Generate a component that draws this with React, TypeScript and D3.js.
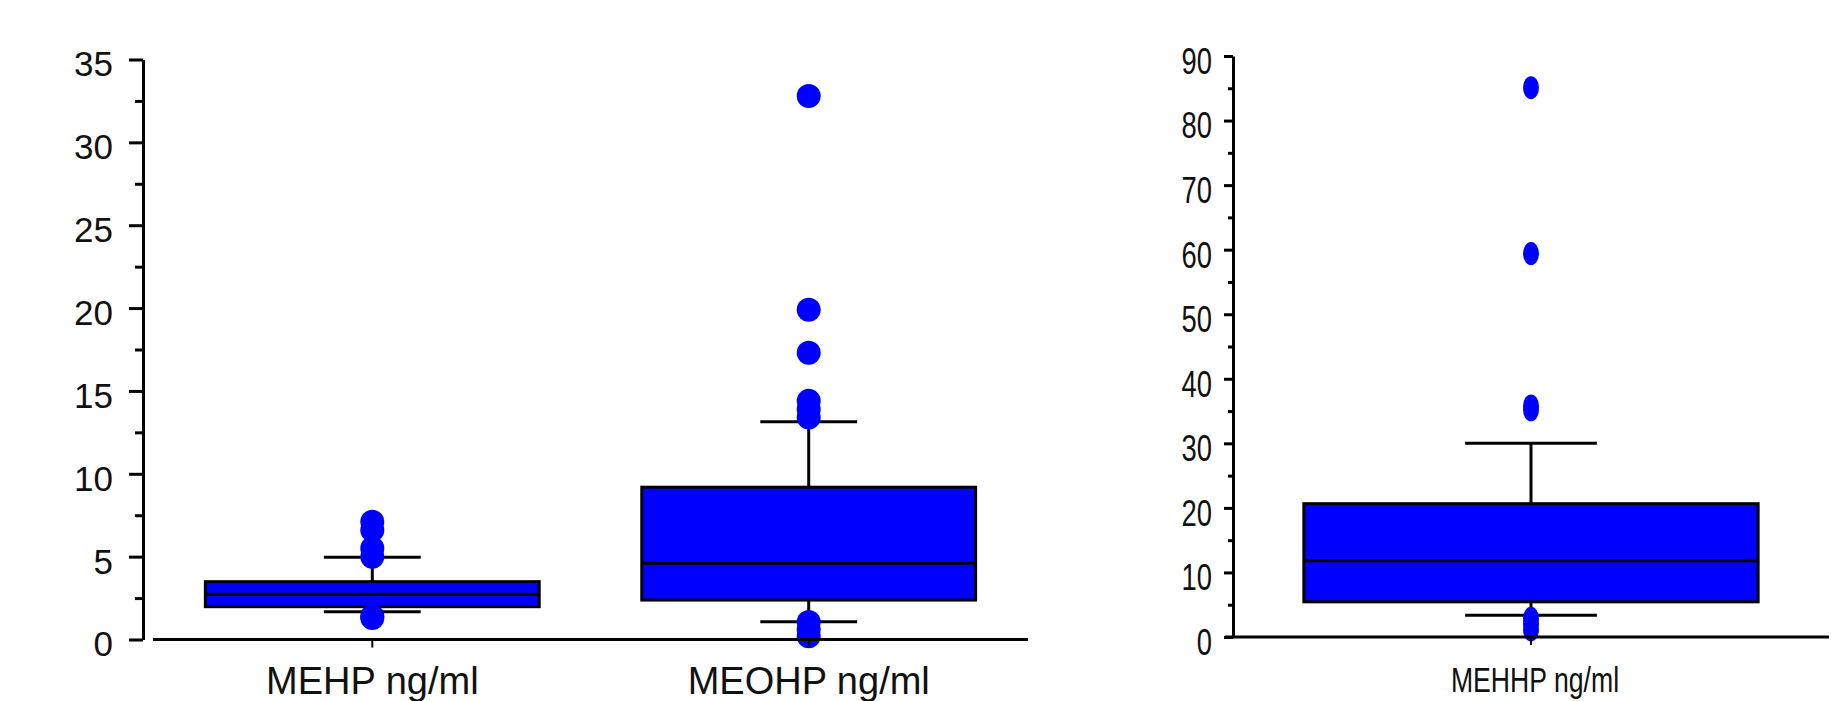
import { useEffect, useRef } from 'react'
import * as d3 from 'd3'

// left panel: MEHP / MEOHP (0-35)
const LEFT_CATEGORIES = ['MEHP ng/ml', 'MEOHP ng/ml']
const LEFT_WHISKER_LOW = [1.68, 1.07]
const LEFT_Q1 = [1.98, 2.38]
const LEFT_MEDIAN = [2.73, 4.6]
const LEFT_Q3 = [3.49, 9.19]
const LEFT_WHISKER_HIGH = [4.96, 13.14]
const LEFT_OUTLIERS = [
  [7.1, 6.6, 5.5, 5.0, 1.4, 1.3],
  [32.8, 19.9, 17.3, 14.4, 13.9, 13.4, 1.06, 0.6, 0.2],
]
const LEFT_MAJOR_TICKS = [0, 5, 10, 15, 20, 25, 30, 35]
const LEFT_MINOR_TICKS = [2.5, 7.5, 12.5, 17.5, 22.5, 27.5, 32.5]

// right panel: MEHHP (0-90)
const RIGHT_CATEGORIES = ['MEHHP ng/ml']
const RIGHT_WHISKER_LOW = [3.37]
const RIGHT_Q1 = [5.45]
const RIGHT_MEDIAN = [11.83]
const RIGHT_Q3 = [20.65]
const RIGHT_WHISKER_HIGH = [30.0]
const RIGHT_OUTLIERS = [[85.1, 59.4, 35.8, 35.2, 2.9, 2.0, 1.1]]
const RIGHT_MAJOR_TICKS = [0, 10, 20, 30, 40, 50, 60, 70, 80, 90]
const RIGHT_MINOR_TICKS = [5, 15, 25, 35, 45, 55, 65, 75, 85]

const BLUE = '#0000ff'
const FONT = '"Liberation Sans", Arial, sans-serif'

function drawPanel(svg, p) {
  const g = svg.append('g')

  const y = d3.scaleLinear().domain([0, p.yMax]).range([p.bottom, p.top])
  const x = d3.scaleBand()
    .domain(p.categories)
    .range([p.bandLeft, p.bandRight])
    .paddingInner(p.padInner)
    .paddingOuter(p.padOuter)
  const bw = x.bandwidth()
  const capW = bw * 0.29

  p.categories.forEach((cat, i) => {
    const cx = x(cat) + bw / 2

    // whisker stem
    g.append('line')
      .attr('x1', cx).attr('x2', cx)
      .attr('y1', y(p.low[i])).attr('y2', y(p.high[i]))
      .attr('stroke', '#000').attr('stroke-width', 3)

    // caps
    ;[p.low[i], p.high[i]].forEach((v) => {
      g.append('line')
        .attr('x1', cx - capW / 2).attr('x2', cx + capW / 2)
        .attr('y1', y(v)).attr('y2', y(v))
        .attr('stroke', '#000').attr('stroke-width', 3)
    })

    // box
    g.append('rect')
      .attr('x', x(cat))
      .attr('y', y(p.q3[i]))
      .attr('width', bw)
      .attr('height', y(p.q1[i]) - y(p.q3[i]))
      .attr('fill', BLUE)
      .attr('stroke', '#000')
      .attr('stroke-width', 3)

    g.append('line')
      .attr('x1', x(cat)).attr('x2', x(cat) + bw)
      .attr('y1', y(p.median[i])).attr('y2', y(p.median[i]))
      .attr('stroke', '#000').attr('stroke-width', 3)

    // outliers
    g.selectAll(null)
      .data(p.outliers[i])
      .enter()
      .append('ellipse')
      .attr('cx', cx)
      .attr('cy', (d) => y(d))
      .attr('rx', p.dotRx)
      .attr('ry', p.dotRy)
      .attr('fill', BLUE)

    // category tick + label
    g.append('line')
      .attr('x1', cx).attr('x2', cx)
      .attr('y1', y(0)).attr('y2', y(0) + 8)
      .attr('stroke', '#000').attr('stroke-width', 2)

    g.append('text')
      .attr('transform', `translate(${cx + p.labelShift},${p.labelY}) scale(${p.textScale},1)`)
      .attr('text-anchor', 'middle')
      .attr('font-family', FONT)
      .attr('font-size', p.labelSize)
      .attr('fill', '#111')
      .text(cat)
  })

  // x axis line
  g.append('line')
    .attr('x1', p.xAxisStart).attr('x2', p.xAxisEnd)
    .attr('y1', y(0)).attr('y2', y(0))
    .attr('stroke', '#000').attr('stroke-width', 3)

  // y axis
  const yAxis = g.append('g')
    .attr('transform', `translate(${p.axisX},0)`)
    .call(d3.axisLeft(y).tickValues(p.majorTicks).tickSize(p.majorLen).tickSizeOuter(0).tickPadding(p.tickPad))
  yAxis.select('.domain').attr('stroke-width', 3)
  yAxis.selectAll('.tick line').attr('stroke-width', 3)
  yAxis.selectAll('.tick text')
    .attr('x', 0)
    .attr('dy', '0.47em')
    .attr('transform', `translate(${-(p.majorLen + p.tickPad)},0) scale(${p.textScale},1)`)
    .attr('font-family', FONT)
    .attr('font-size', p.tickSize)
    .attr('fill', '#111')

  const minor = g.append('g')
    .attr('transform', `translate(${p.axisX},0)`)
    .call(d3.axisLeft(y).tickValues(p.minorTicks).tickSize(p.minorLen).tickSizeOuter(0).tickFormat(() => ''))
  minor.select('.domain').remove()
  minor.selectAll('.tick line').attr('stroke-width', 3)
}

export default function App() {
  const svgRef = useRef(null)

  useEffect(() => {
    const svg = d3.select(svgRef.current)
    svg.selectAll('*').remove()

    drawPanel(svg, {
      categories: LEFT_CATEGORIES,
      low: LEFT_WHISKER_LOW, q1: LEFT_Q1, median: LEFT_MEDIAN, q3: LEFT_Q3, high: LEFT_WHISKER_HIGH,
      outliers: LEFT_OUTLIERS,
      majorTicks: LEFT_MAJOR_TICKS, minorTicks: LEFT_MINOR_TICKS,
      yMax: 35, top: 59.5, bottom: 639.5,
      bandLeft: 153, bandRight: 1028, padInner: 0.235, padOuter: 0.12,
      axisX: 143, xAxisStart: 153, xAxisEnd: 1028,
      majorLen: 14, minorLen: 8, tickPad: 16,
      tickSize: 35, labelSize: 38, labelY: 694, labelShift: 0, textScale: 1,
      dotRx: 12, dotRy: 12,
    })

    drawPanel(svg, {
      categories: RIGHT_CATEGORIES,
      low: RIGHT_WHISKER_LOW, q1: RIGHT_Q1, median: RIGHT_MEDIAN, q3: RIGHT_Q3, high: RIGHT_WHISKER_HIGH,
      outliers: RIGHT_OUTLIERS,
      majorTicks: RIGHT_MAJOR_TICKS, minorTicks: RIGHT_MINOR_TICKS,
      yMax: 90, top: 56, bottom: 637,
      bandLeft: 1233, bandRight: 1829, padInner: 0, padOuter: 0.156,
      axisX: 1233, xAxisStart: 1225, xAxisEnd: 1829,
      majorLen: 9, minorLen: 5, tickPad: 12,
      tickSize: 37, labelSize: 36, labelY: 692, labelShift: 4, textScale: 0.74,
      dotRx: 8, dotRy: 11.5,
    })
  }, [])

  return (
    <svg
      ref={svgRef}
      width={1842}
      height={701}
      style={{ position: 'absolute', left: 0, top: 0, background: '#fff' }}
    />
  )
}
